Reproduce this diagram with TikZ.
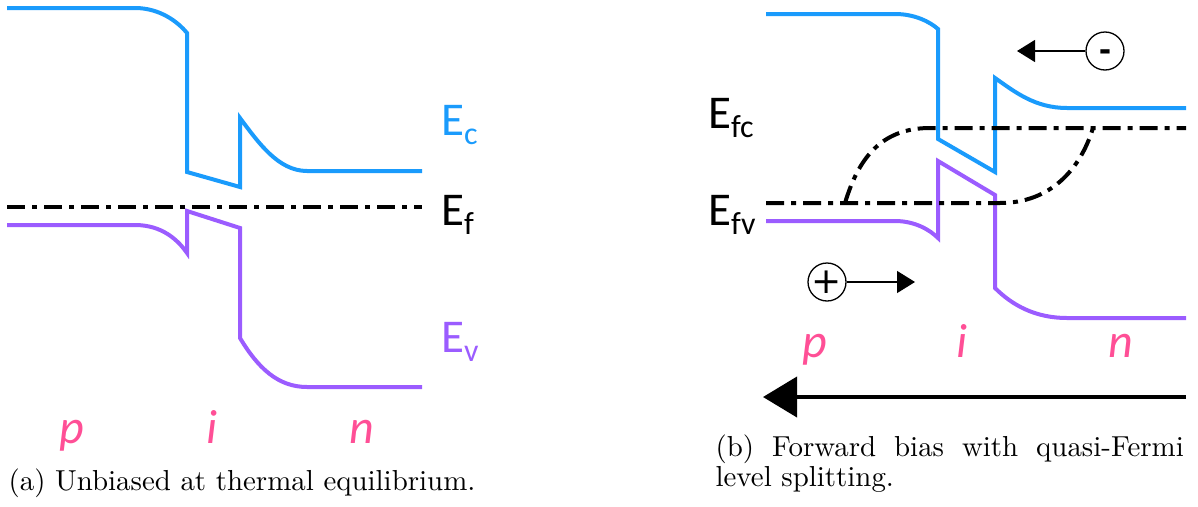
\documentclass[tikz,border=0pt]{standalone}
\usepackage{fontspec}
\newfontfamily\carlito{Carlito}
\newfontfamily\djv{DejaVu Sans}
\usetikzlibrary{arrows.meta}
\definecolor{cband}{HTML}{1A9BFC}
\definecolor{vband}{HTML}{9B5CFF}
\definecolor{pinkl}{HTML}{FF4F96}
\newcommand{\lsub}[1]{{\fontsize{32}{32}\selectfont\raisebox{-9pt}{#1}}}
\begin{document}
\begin{tikzpicture}[x=1pt,y=-1pt,
  cb/.style={draw=cband,line width=4pt},
  vb/.style={draw=vband,line width=4pt},
  fermi/.style={draw=black,line width=4pt,dash pattern=on 18pt off 7pt on 5pt off 7pt},
  elab/.style={font=\carlito\fontsize{47}{47}\selectfont, inner sep=0pt, anchor=base west},
  region/.style={font=\carlito\itshape\fontsize{48}{48}\selectfont, text=pinkl, inner sep=0pt, anchor=base},
  captxt/.style={font=\fontsize{10}{10.5}\selectfont, scale=2.89, inner sep=0pt, anchor=base west},
  particle/.style={draw, circle, line width=1.3pt, minimum size=38pt, inner sep=0pt},
  thinarrow/.style={line width=1.3pt, -{Triangle[length=18pt,width=22pt]}},
  bigarrow/.style={line width=4pt, -{Triangle[length=34pt,width=40pt]}}
  ]
\path[use as bounding box] (0,0) rectangle (1198,506);
% ---------- panel (a)
\draw[cb] (7,8) -- (135,8) .. controls (160,8) and (178,22) .. (187,33) -- (187,172) -- (240,187) -- (240,118) .. controls (258,142) and (278,171) .. (307,171) -- (422,171);
\draw[vb] (7,225) -- (135,225) .. controls (162,225) and (178,240) .. (187,253) -- (187,211) -- (240,228) -- (240,338) .. controls (258,368) and (278,387) .. (307,387) -- (422,387);
\draw[fermi] (7,207) -- (422,207);
\node[elab, text=cband] (ec) at (441,135) {E\lsub{c}};
\node[elab] (ef) at (441,225) {E\lsub{f}};
\node[elab, text=vband] (ev) at (441,352) {E\lsub{v}};
\node[region] (pa) at (72,443) {p};
\node[region] (ia) at (212,443) {i};
\node[region] (na) at (362,443) {n};
\node[captxt] (capa) at (8,490) {(a) Unbiased at thermal equilibrium.};
% ---------- panel (b)
\draw[cb] (766,14) -- (895,14) .. controls (915,14) and (930,22) .. (938,29) -- (938,139) -- (995,172) -- (995,78) .. controls (1015,92) and (1035,108) .. (1067,108) -- (1186,108);
\draw[vb] (766,221) -- (895,221) .. controls (915,221) and (930,230) .. (938,238) -- (938,161) -- (995,195) -- (995,288) .. controls (1012,305) and (1035,318) .. (1067,318) -- (1186,318);
\draw[fermi] (766,203) -- (1000,203) .. controls (1050,203) and (1080,170) .. (1093,128);
\draw[fermi] (845,203) .. controls (858,160) and (880,128) .. (930,128) -- (1186,128);
\node[elab] (efc) at (708,128) {E\lsub{fc}};
\node[elab] (efv) at (708,225) {E\lsub{fv}};
\node[particle] (minus) at (1105,51) {\djv\bfseries\fontsize{30}{30}\selectfont\raisebox{-9pt}[0pt][0pt]{-}};
\coordinate (mtip) at (1017,51);
\draw[thinarrow] (minus) -- (mtip);
\node[particle] (plus) at (827,282) {\djv\fontsize{36}{36}\selectfont +};
\coordinate (ptip) at (915,282);
\draw[thinarrow] (plus) -- (ptip);
\node[region] (pb) at (815,357) {p};
\node[region] (ib) at (962,357) {i};
\node[region] (nb) at (1121,357) {n};
\coordinate (bigR) at (1186,397);
\coordinate (bigL) at (763,397);
\draw[bigarrow] (bigR) -- (bigL);
\node[captxt, text width=162pt, align=justify] (capb) at (715,456) {(b) Forward bias with quasi-Fermi\linebreak level splitting.};
\end{tikzpicture}
\end{document}
